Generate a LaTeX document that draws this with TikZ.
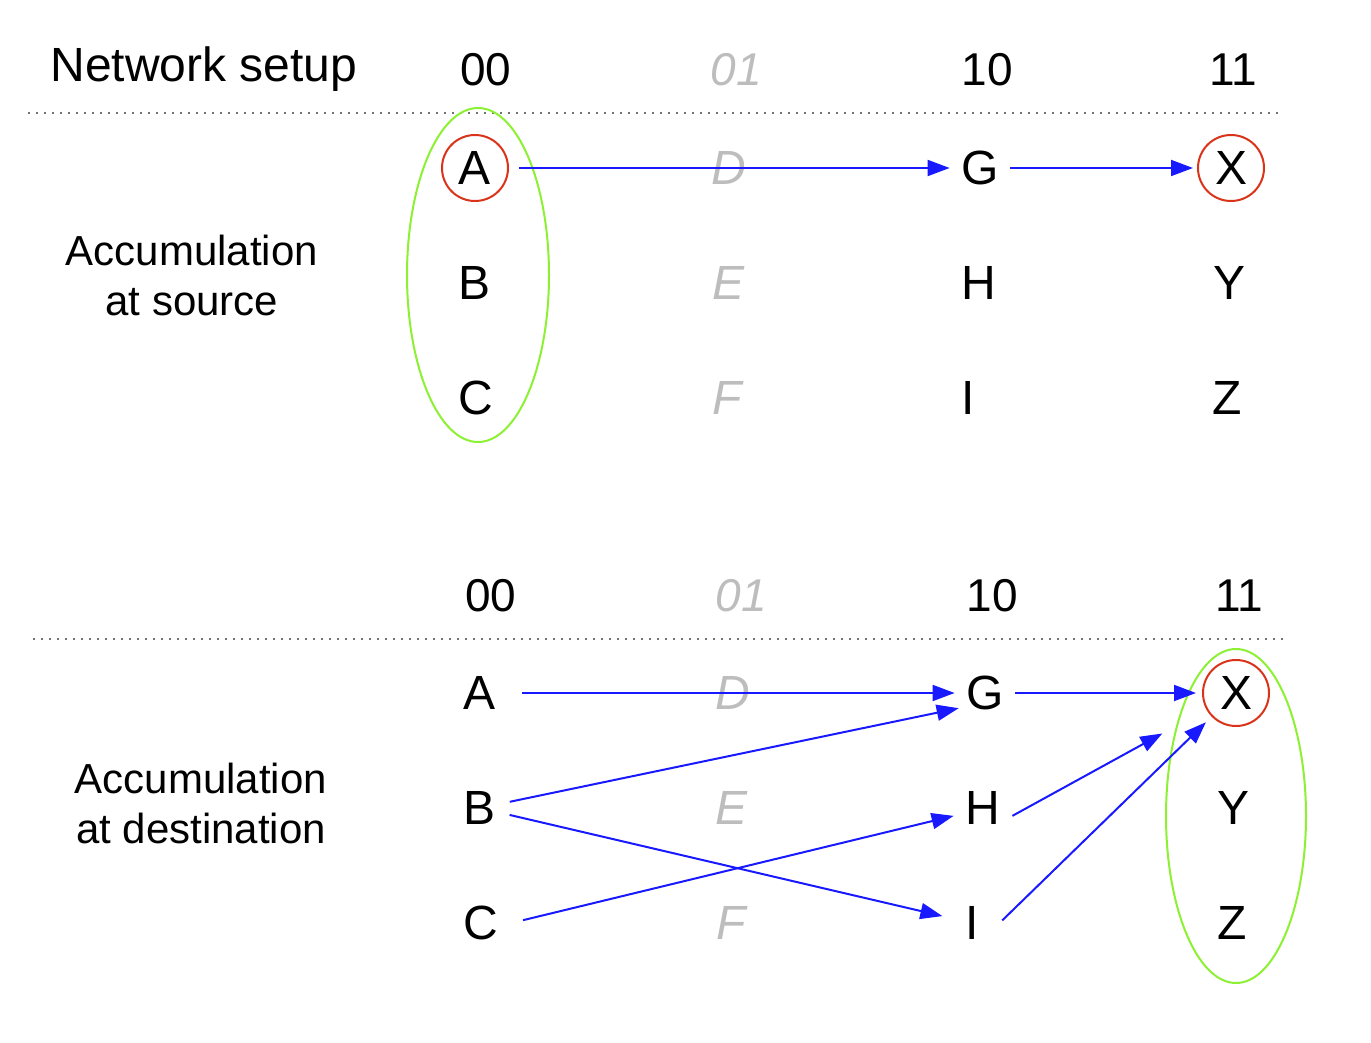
\documentclass[tikz,border=0pt]{standalone}
\usepackage{fontspec}
\setmainfont{Liberation Sans}
\usetikzlibrary{arrows.meta, positioning}
\definecolor{linkblue}{rgb}{0.1, 0.1, 1.0}
\definecolor{hitred}{rgb}{0.85, 0.2, 0.1}
\definecolor{ringgreen}{rgb}{0.55, 0.94, 0.2}
\definecolor{ghostgray}{rgb}{0.74, 0.74, 0.74}
\definecolor{dotgray}{rgb}{0.45, 0.45, 0.45}
\def\picwidth{1371}
\def\picheight{1043}
\def\shapeFrame{(0,0) rectangle (\picwidth,\picheight)}
\tikzset{
  letter/.style={circle, inner sep=0pt, minimum size=30pt, font=\fontsize{24}{28}\selectfont},
  ghost/.style={letter, text=ghostgray, font=\fontsize{24}{28}\selectfont\itshape},
  hit/.style={letter, draw=hitred, line width=1pt, minimum size=33pt},
  colhead/.style={font=\fontsize{23}{28}\selectfont},
  ghosthead/.style={colhead, text=ghostgray, font=\fontsize{23}{28}\selectfont\itshape},
  sidetext/.style={align=center, font=\fontsize{21}{25}\selectfont},
  link/.style={draw=linkblue, line width=1pt, -{Triangle[length=11pt, width=8pt]}},
  divider/.style={dotgray, line width=1.1pt, dash pattern=on 1.1pt off 2.9pt},
  ring/.style={ringgreen, line width=1pt}
}

\begin{document}
\begin{tikzpicture}[x=0.5pt, y=-0.5pt]
  \useasboundingbox \shapeFrame;
  %\draw [step=100, help lines] \shapeFrame;

  %begin source part
    \node[anchor=base, font=\fontsize{24}{28}\selectfont] (setup) at (204,82) {Network setup};
    \node[colhead]   (h00) at (486,70)  {00};
    \node[ghosthead] (h01) at (736,70)  {01};
    \node[colhead]   (h10) at (987,70)  {10};
    \node[colhead]   (h11) at (1233,70) {11};
    \draw[divider] (28,113) -- (1283,113);

    \node[sidetext] (src) at (192,275) {Accumulation\\at source};
    \draw[ring] (478,275) ellipse [x radius=35.5pt, y radius=83.5pt];

    \node[hit]    (A) at (475,168)  {A};
    \node[letter] (B) at (475,283)  {B};
    \node[letter] (C) at (476,398)  {C};
    \node[ghost]  (D) at (729,168)  {D};
    \node[ghost]  (E) at (728,283)  {E};
    \node[ghost]  (F) at (727,398)  {F};
    \node[letter] (G) at (980,168)  {G};
    \node[letter] (H) at (979,283)  {H};
    \node[letter] (I) at (968,398)  {I};
    \node[hit]    (X) at (1231,168) {X};
    \node[letter] (Y) at (1229,283) {Y};
    \node[letter] (Z) at (1227,398) {Z};

    \draw[link, shorten <=5pt] (A) -- (G);
    \draw[link, shorten >=2pt] (G) -- (X);

  %begin destination part
    \node[colhead]   (k00) at (491,596)  {00};
    \node[ghosthead] (k01) at (741,596)  {01};
    \node[colhead]   (k10) at (992,596)  {10};
    \node[colhead]   (k11) at (1239,596) {11};
    \draw[divider] (33,639) -- (1287,639);

    \node[sidetext] (dst) at (201,803) {Accumulation\\at destination};
    \draw[ring] (1236,816) ellipse [x radius=35pt, y radius=83.5pt];

    \node[letter] (A2) at (480,693)  {A};
    \node[letter] (B2) at (480,808)  {B};
    \node[letter] (C2) at (481,923)  {C};
    \node[ghost]  (D2) at (733,693)  {D};
    \node[ghost]  (E2) at (732,808)  {E};
    \node[ghost]  (F2) at (731,923)  {F};
    \node[letter] (G2) at (985,693)  {G};
    \node[letter] (H2) at (983,808)  {H};
    \node[letter] (I2) at (972,923)  {I};
    \node[hit]    (X2) at (1236,693) {X};
    \node[letter] (Y2) at (1233,808) {Y};
    \node[letter] (Z2) at (1232,923) {Z};

    \draw[link, shorten <=6pt] (A2) -- (G2);
    \draw[link] (B2) -- (G2.210);
    \draw[link] (B2) -- (I2);
    \draw[link, shorten <=6pt] (C2.east) -- (H2.195);
    \draw[link, shorten >=3pt] (G2) -- (X2);
    \draw[link, shorten >=25pt] (H2.-15) -- (X2);
    \draw[link, shorten >=4pt] (I2.5) -- (X2);

\end{tikzpicture}
\end{document}
